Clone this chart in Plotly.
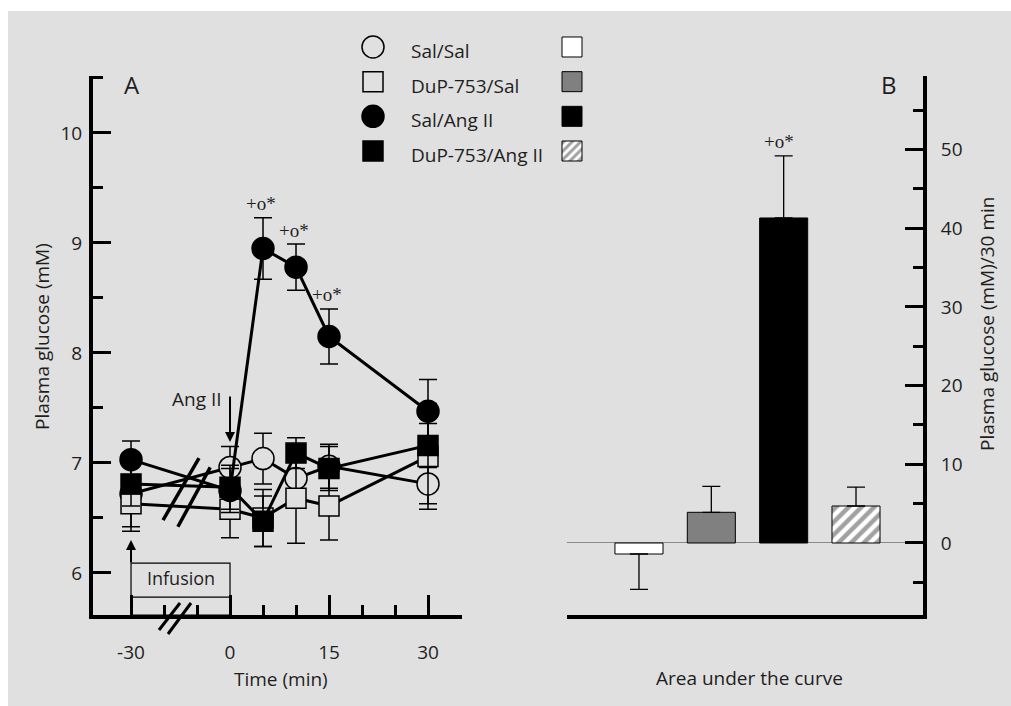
import plotly.graph_objects as go

W, H = 1011, 706

# ---------------- data ----------------
time_min = [-30, 0, 5, 10, 15, 30]
groups = ["Sal/Sal", "DuP-753/Sal", "Sal/Ang II", "DuP-753/Ang II"]

sal_sal_mean = [6.72, 6.96, 7.04, 6.86, 6.97, 6.81]
sal_sal_se = [0.30, 0.19, 0.23, 0.25, 0.20, 0.18]
dup_sal_mean = [6.63, 6.58, 6.50, 6.68, 6.61, 7.06]
dup_sal_se = [0.25, 0.26, 0.26, 0.41, 0.31, 0.48]
sal_ang_mean = [7.03, 6.75, 8.95, 8.78, 8.15, 7.47]
sal_ang_se = [0.17, 0.20, 0.28, 0.21, 0.25, 0.29]
dup_ang_mean = [6.81, 6.78, 6.47, 7.09, 6.95, 7.16]
dup_ang_se = [0.20, 0.20, 0.23, 0.14, 0.20, 0.20]

sig_times = [5, 10, 15]
sig_label = "+o*"

auc_mean = [-1.4, 3.9, 41.3, 4.7]
auc_se = [4.5, 3.3, 7.9, 2.4]
auc_sig_group = "Sal/Ang II"

x_tick_times = [-30, 0, 15, 30]
x_minor_times = [-20, -10, 5, 10, 20, 25, 35]
infusion_start, angii_time = -30, 0

# ---------------- styling helpers ----------------
FONT = "Open Sans"
INK = "#1e1e1e"
BG = "#e0e0e0"
PRE_BREAK = 0.5  # time before 0 is compressed on the broken axis


def pos(t):
    return t * PRE_BREAK if t < 0 else t


def px(x):
    return x / W


def py(y):
    return 1 - y / H


xpos = [pos(t) for t in time_min]

series = [
    ("Sal/Sal", sal_sal_mean, sal_sal_se, "circle", BG, 22),
    ("DuP-753/Sal", dup_sal_mean, dup_sal_se, "square", BG, 20),
    ("DuP-753/Ang II", dup_ang_mean, dup_ang_se, "square", "black", 20),
    ("Sal/Ang II", sal_ang_mean, sal_ang_se, "circle", "black", 22),
]

fig = go.Figure()

for name, m, se, sym, fill, size in series:
    fig.add_trace(go.Scatter(
        x=xpos, y=m, mode="lines+markers", name=name, showlegend=False,
        line=dict(color="black", width=3),
        marker=dict(symbol=sym, size=size, color=fill, opacity=1,
                    line=dict(color="black", width=1.5)),
        error_y=dict(type="data", array=se, visible=True,
                     color="black", thickness=1.5, width=9),
        xaxis="x", yaxis="y", cliponaxis=False,
    ))

# bars (panel B)
bar_colors = ["white", "#808080", "black", "white"]
bar_patterns = ["", "", "", "/"]
plus = [s if v >= 0 else 0 for v, s in zip(auc_mean, auc_se)]
minus = [s if v < 0 else 0 for v, s in zip(auc_mean, auc_se)]
fig.add_trace(go.Bar(
    x=groups, y=auc_mean, width=0.664, showlegend=False,
    marker=dict(color=bar_colors, line=dict(color="black", width=1),
                pattern=dict(shape=bar_patterns, fgcolor="black",
                             bgcolor="white", size=9, solidity=0.5)),
    error_y=dict(type="data", symmetric=False, array=plus, arrayminus=minus,
                 color="black", thickness=1.3, width=9),
    xaxis="x2", yaxis="y2",
))

# legend (custom layout)
legend_idx = list(range(len(groups)))
legend_sym = {"Sal/Sal": ("circle", BG, 22), "DuP-753/Sal": ("square", BG, 20),
              "Sal/Ang II": ("circle", "black", 22),
              "DuP-753/Ang II": ("square", "black", 20)}
fig.add_trace(go.Scatter(
    x=[0] * len(groups), y=legend_idx, mode="markers", showlegend=False,
    marker=dict(symbol=[legend_sym[g][0] for g in groups],
                color=[legend_sym[g][1] for g in groups],
                size=[legend_sym[g][2] for g in groups], opacity=1,
                line=dict(color="black", width=1.5)),
    xaxis="x3", yaxis="y3", cliponaxis=False, hoverinfo="skip",
))
sw_h = 0.577
fig.add_trace(go.Bar(
    x=[1] * len(groups), y=[sw_h] * len(groups),
    base=[i - sw_h / 2 for i in legend_idx], width=0.1005, showlegend=False,
    marker=dict(color=bar_colors, line=dict(color="black", width=1),
                pattern=dict(shape=bar_patterns, fgcolor="black",
                             bgcolor="white", size=6, solidity=0.5)),
    xaxis="x3", yaxis="y3", hoverinfo="skip",
))

ydom = [py(615), py(76)]
tickfont = dict(family=FONT, size=19, color=INK)

fig.update_layout(
    width=W, height=H, margin=dict(l=0, r=0, t=0, b=0, autoexpand=False),
    paper_bgcolor="white", plot_bgcolor="rgba(0,0,0,0)",
    barmode="overlay", showlegend=False,
    xaxis=dict(domain=[px(93), px(462)], range=[-20.76, 35.15],
               showline=True, linecolor="black", linewidth=4,
               showgrid=False, zeroline=False,
               tickmode="array", tickvals=[pos(t) for t in x_tick_times],
               ticktext=[str(t) for t in x_tick_times],
               ticks="inside", ticklen=20, tickwidth=3, tickcolor="black",
               ticklabelstandoff=17, tickfont=tickfont,
               minor=dict(tickmode="array",
                          tickvals=[pos(t) for t in x_minor_times],
                          ticks="inside", ticklen=10, tickwidth=2.5,
                          tickcolor="black"),
               anchor="y"),
    yaxis=dict(domain=ydom, range=[5.618, 10.518],
               showline=True, linecolor="black", linewidth=4,
               showgrid=False, zeroline=False,
               tickmode="linear", tick0=0, dtick=1,
               ticks="inside", ticklen=18, tickwidth=3, tickcolor="black",
               ticklabelstandoff=3, tickfont=tickfont,
               minor=dict(dtick=0.5, tick0=0, ticks="inside", ticklen=10,
                          tickwidth=2.5, tickcolor="black"),
               anchor="x"),
    xaxis2=dict(domain=[px(567), px(923)], range=[-0.995, 3.926],
                type="category", showline=True, linecolor="black",
                linewidth=4, showgrid=False, zeroline=False,
                showticklabels=False, ticks="", anchor="y2"),
    yaxis2=dict(domain=ydom, range=[-9.15, 59.34], side="right",
                showline=True, linecolor="black", linewidth=4,
                showgrid=False, zeroline=True, zerolinecolor="#8a8a8a",
                zerolinewidth=1,
                tickmode="linear", tick0=0, dtick=10,
                ticks="inside", ticklen=18, tickwidth=3, tickcolor="black",
                ticklabelstandoff=10, tickfont=tickfont,
                minor=dict(dtick=5, tick0=0, ticks="inside", ticklen=10,
                           tickwidth=2.5, tickcolor="black"),
                anchor="x2"),
    xaxis3=dict(domain=[px(353), px(592)], range=[-0.1005, 1.1005],
                visible=False, anchor="y3"),
    yaxis3=dict(domain=[py(168), py(30)], range=[3.49, -0.49],
                visible=False, anchor="x3"),
)

# background panel
fig.add_shape(type="rect", xref="paper", yref="paper",
              x0=px(8), x1=1, y0=0, y1=py(11),
              fillcolor=BG, line=dict(width=0), layer="below")

ann = []


def text(x, y, s, size=19, **kw):
    d = dict(x=x, y=y, text=s, showarrow=False, xanchor="center",
             yanchor="middle", font=dict(family=FONT, size=size, color=INK))
    d.update(kw)
    ann.append(d)


# titles and panel letters
text(px(42), py(337), "Plasma glucose (mM)", xref="paper", yref="paper",
     textangle=-90)
text(px(987), py(324), "Plasma glucose (mM)/30 min", xref="paper",
     yref="paper", textangle=-90)
text(px(281), py(679), "Time (min)", xref="paper", yref="paper")
text(px(749), py(678), "Area under the curve", xref="paper", yref="paper")
text(px(132), py(85), "A", size=24, xref="paper", yref="paper")
text(px(889), py(85), "B", size=24, xref="paper", yref="paper")

# legend labels
for i, g in zip(legend_idx, groups):
    text(0, i, g, xref="x3", yref="y3", xanchor="left", xshift=36, yshift=-4)

# significance marks
sig_font = dict(family="Liberation Serif", size=19, color=INK)
for t in sig_times:
    k = time_min.index(t)
    ann.append(dict(x=pos(t), y=sal_ang_mean[k] + sal_ang_se[k], xref="x",
                    yref="y", text=sig_label, showarrow=False, yshift=14,
                    xshift=-2, xanchor="center", yanchor="middle",
                    font=sig_font))
kb = groups.index(auc_sig_group)
ann.append(dict(x=auc_sig_group, y=auc_mean[kb] + auc_se[kb], xref="x2",
                yref="y2", text=sig_label, showarrow=False, yshift=14,
                xshift=-5, xanchor="center", yanchor="middle", font=sig_font))

# Ang II arrow
ann.append(dict(x=pos(angii_time), y=7.19, xref="x", yref="y", text="",
                showarrow=True, arrowhead=2, arrowsize=1, arrowwidth=2,
                arrowcolor="black", ax=0, ay=-47))
text(pos(angii_time), 7.58, "Ang II", xref="x", yref="y", xshift=-33)

# infusion arrow and box
ann.append(dict(x=pos(infusion_start), y=6.30, xref="x", yref="y", text="",
                showarrow=True, arrowhead=2, arrowsize=1, arrowwidth=2,
                arrowcolor="black", ax=0, ay=24))
fig.add_shape(type="rect", xref="x", yref="y", x0=pos(infusion_start),
              x1=pos(angii_time), y0=5.618, y1=6.09,
              line=dict(color="black", width=1.2))
fig.add_shape(type="line", xref="x", yref="y", x0=pos(infusion_start),
              x1=pos(angii_time), y0=5.78, y1=5.78,
              line=dict(color="black", width=1.2))
text((pos(infusion_start) + pos(angii_time)) / 2, 5.955, "Infusion",
     xref="x", yref="y", size=18)

# break marks across the data lines
fig.add_shape(type="line", xref="x", yref="y", x0=-10.15, y0=6.48,
              x1=-4.7, y1=7.045, line=dict(color="black", width=3.5))
fig.add_shape(type="line", xref="x", yref="y", x0=-7.9, y0=6.42,
              x1=-3.0, y1=6.96, line=dict(color="black", width=3.5))
# break marks on the time axis
fig.add_shape(type="line", xref="paper", yref="paper", x0=px(159),
              y0=py(630), x1=px(180), y1=py(603),
              line=dict(color="black", width=3))
fig.add_shape(type="line", xref="paper", yref="paper", x0=px(168),
              y0=py(634), x1=px(191), y1=py(603),
              line=dict(color="black", width=3))

fig.update_layout(annotations=ann)
fig.write_html("out.html", config={"displayModeBar": False},
               post_script="document.body.style.margin='0';"
                           "document.body.style.overflow='hidden';")
